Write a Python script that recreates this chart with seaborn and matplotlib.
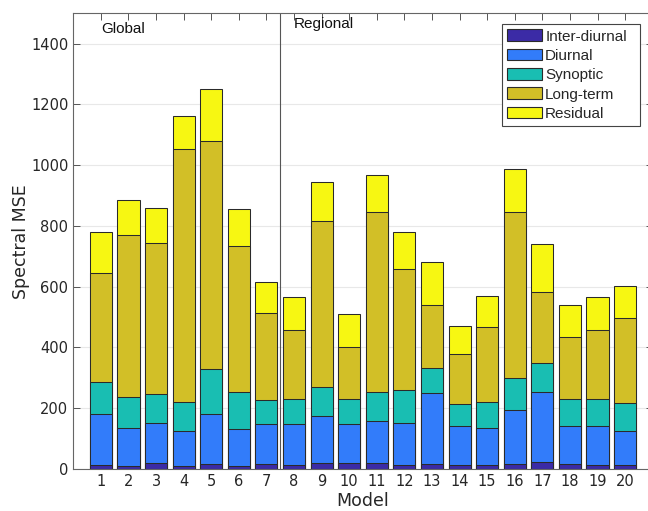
import numpy as np
import pandas as pd
import matplotlib
matplotlib.use("Agg")
import matplotlib.pyplot as plt
from matplotlib.patches import Patch
import seaborn as sns

models = [str(i) for i in range(1, 21)]
inter_diurnal = [12, 11, 19, 11, 15, 11, 15, 13, 19, 19, 19, 13, 15, 13, 13, 16, 22, 15, 13, 13]
diurnal = [169, 123, 131, 114, 165, 120, 132, 134, 154, 128, 139, 140, 234, 128, 121, 177, 232, 128, 130, 113]
synoptic = [106, 104, 96, 97, 148, 122, 81, 85, 98, 85, 94, 107, 82, 72, 87, 105, 95, 87, 89, 92]
long_term = [359, 531, 499, 832, 753, 480, 284, 227, 546, 168, 595, 397, 210, 164, 246, 547, 235, 204, 227, 279]
residual = [133, 117, 115, 108, 169, 124, 102, 108, 127, 111, 120, 124, 139, 94, 104, 141, 158, 107, 106, 105]

series_names = ["Inter-diurnal", "Diurnal", "Synoptic", "Long-term", "Residual"]
colors = ["#3B2BA6", "#327CFA", "#19BEB2", "#D2BF27", "#F7F712"]

sns.set_theme(style="ticks")
plt.rcParams["font.family"] = ["DejaVu Sans"]

comps = np.array([inter_diurnal, diurnal, synoptic, long_term, residual], dtype=float)
cum = np.cumsum(comps, axis=0)

fig = plt.figure(figsize=(6.48, 5.11), dpi=100)
ax_l, ax_r, ax_t, ax_b = 73.3, 652.7, 13.3, 469.0
ax = fig.add_axes([ax_l / 648, (511 - ax_b) / 511, (ax_r - ax_l) / 648, (ax_b - ax_t) / 511])
ax.set_axisbelow(True)
ax.grid(True, color="#e8e8e8", linewidth=0.8)

for k in range(len(series_names) - 1, -1, -1):
    df = pd.DataFrame({"Model": models, "val": cum[k]})
    sns.barplot(data=df, x="Model", y="val", order=models, color=colors[k],
                saturation=1, width=0.8, edgecolor="#2a2a2a", linewidth=0.75,
                ax=ax)

ax.set_xlim(-1, 20)
ax.set_ylim(0, 1500)
ax.set_yticks(np.arange(0, 1401, 200))
ax.axvline(6.5, color="#555555", linewidth=0.8)

ax.tick_params(direction="in", length=5, width=0.7, colors="#555555",
               labelcolor="#262626", labelsize=10.5, top=True, right=True)
for s in ax.spines.values():
    s.set_color("#666666")
    s.set_linewidth(0.8)

ax.set_xlabel("Model", fontsize=12.5, color="#262626", labelpad=2)
ax.set_ylabel("Spectral MSE", fontsize=12.5, color="#262626", labelpad=0.5)

ax.text(0.03, 1449, "Global", fontsize=11, family="Liberation Sans",
        color="#111111", va="center", ha="left")
ax.text(7.0, 1466, "Regional", fontsize=11, family="Liberation Sans",
        color="#111111", va="center", ha="left")

def fx(px):
    return (px - ax_l) / (ax_r - ax_l)

def fy(py):
    return (ax_b - py) / (ax_b - ax_t)

handles = [Patch(facecolor=c, edgecolor="#2a2a2a", linewidth=0.8) for c in colors]
leg = ax.legend(handles, series_names, loc="upper left", mode="expand",
                bbox_to_anchor=(fx(501.7), fy(125), fx(640) - fx(501.7), fy(24) - fy(125)),
                prop={"family": "Liberation Sans", "size": 11},
                fancybox=False, framealpha=1, edgecolor="#444444",
                handlelength=2.3, handleheight=0.8, handletextpad=0.2,
                labelspacing=0.34, borderpad=0.35, borderaxespad=0)
leg.get_frame().set_linewidth(0.8)

fig.savefig("out.png", dpi=100)
